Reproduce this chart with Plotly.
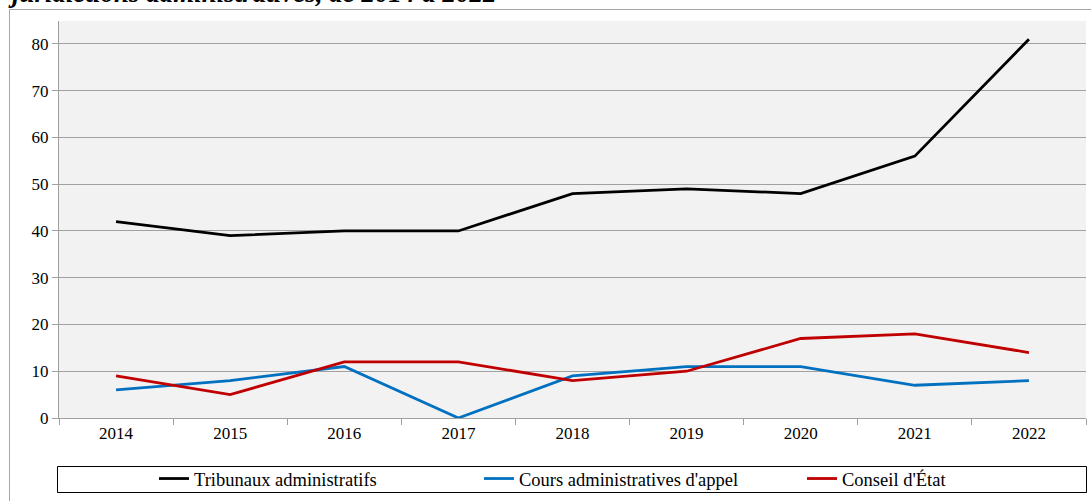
import plotly.graph_objects as go

years = ["2014", "2015", "2016", "2017", "2018", "2019", "2020", "2021", "2022"]
tribunaux = [42, 39, 40, 40, 48, 49, 48, 56, 81]
cours = [6, 8, 11, 0, 9, 11, 11, 7, 8]
conseil = [9, 5, 12, 12, 8, 10, 17, 18, 14]
series_names = ["Tribunaux administratifs", "Cours administratives d'appel", "Conseil d'État"]
y_ticks = [0, 10, 20, 30, 40, 50, 60, 70, 80]
title_text = "juridictions administratives, de 2014 à 2022"

FONT = "Palatino Linotype, Book Antiqua, Liberation Serif, serif"
W, H = 1091, 501
L, R, T, B = 59, 5, 21, 83
pw, ph = W - L - R, H - T - B


def px_x(x):
    return (x - L) / pw


def px_y(y):
    return (H - B - y) / ph


fig = go.Figure()
colors = ["#000000", "#0070c0", "#c00000"]
legend_ids = ["legend", "legend2", "legend3"]
legend_x = [154, 479, 802]
for name, vals, col, lid in zip(series_names, [tribunaux, cours, conseil], colors, legend_ids):
    fig.add_trace(go.Scatter(x=years, y=vals, name=name, mode="lines", legend=lid,
                             line=dict(color=col, width=2.8)))

leg_common = dict(orientation="h", y=px_y(479), yanchor="middle", xanchor="left",
                  bgcolor="rgba(0,0,0,0)", borderwidth=0,
                  font=dict(family=FONT, size=18.5), itemclick=False)

fig.update_layout(
    width=W, height=H,
    margin=dict(l=L, r=R, t=T, b=B, autoexpand=False),
    paper_bgcolor="white",
    plot_bgcolor="#f2f2f2",
    font=dict(family=FONT, size=17, color="#000000"),
    showlegend=True,
    legend=dict(x=px_x(legend_x[0]), **leg_common),
    legend2=dict(x=px_x(legend_x[1]), **leg_common),
    legend3=dict(x=px_x(legend_x[2]), **leg_common),
    xaxis=dict(type="category", range=[-0.5, 8.5], tickson="boundaries", ticks="outside",
               ticklen=6, tickcolor="#a0a0a0", showline=True, linecolor="#a0a0a0",
               linewidth=1, showgrid=False, tickfont=dict(size=17), fixedrange=True),
    yaxis=dict(range=[0, 84.9], tickvals=y_ticks, ticks="outside", ticklen=6,
               tickcolor="#a0a0a0", showline=True, linecolor="#a0a0a0", linewidth=1,
               showgrid=True, gridcolor="#a0a0a0", gridwidth=1, zeroline=False,
               tickfont=dict(size=17), fixedrange=True),
    shapes=[
        dict(type="rect", xref="paper", yref="paper", x0=px_x(9.5), x1=px_x(1100),
             y0=px_y(520), y1=px_y(9.5), line=dict(color="#a6a6a6", width=1)),
        dict(type="rect", xref="paper", yref="paper", x0=px_x(57.5), x1=px_x(1086.5),
             y0=px_y(492.5), y1=px_y(466.5), line=dict(color="#000000", width=1)),
    ],
    annotations=[
        dict(text="<b><i>" + title_text + "</i></b>", xref="paper", yref="paper",
             x=px_x(6), xanchor="left", y=px_y(10.5), yanchor="bottom", showarrow=False,
             font=dict(family=FONT, size=27, color="#000000")),
    ],
)

fig.write_html("out.html", config={"displayModeBar": False},
               post_script="document.body.style.margin='0';document.body.style.overflow='hidden';")
